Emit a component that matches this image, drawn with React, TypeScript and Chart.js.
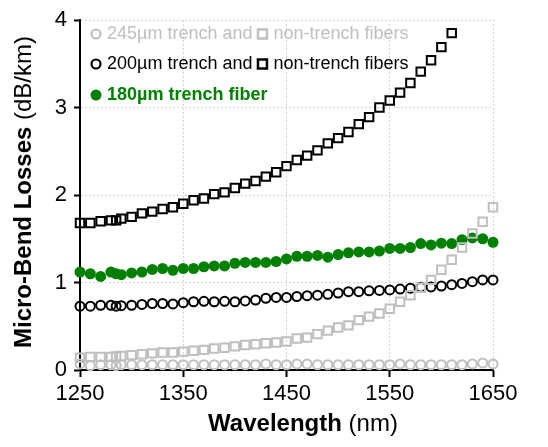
import React, { useEffect, useRef } from "react";
import { Chart, registerables } from "chart.js";

Chart.register(...registerables);

const FONT = '"Liberation Sans", Arial, Helvetica, sans-serif';

const wavelengths = [
  1250, 1260, 1270, 1280, 1285, 1290, 1300, 1310, 1320, 1330, 1340, 1350, 1360, 1370,
  1380, 1390, 1400, 1410, 1420, 1430, 1440, 1450, 1460, 1470, 1480, 1490, 1500, 1510,
  1520, 1530, 1540, 1550, 1560, 1570, 1580, 1590, 1600, 1610, 1620, 1630, 1640, 1650,
];

const trench245 = [
  0.07, 0.05, 0.06, 0.06, 0.05, 0.06, 0.06, 0.06, 0.06, 0.06, 0.06, 0.06, 0.06, 0.06,
  0.06, 0.06, 0.06, 0.06, 0.06, 0.07, 0.06, 0.06, 0.07, 0.07, 0.06, 0.06, 0.06, 0.06,
  0.06, 0.06, 0.06, 0.06, 0.07, 0.06, 0.06, 0.06, 0.06, 0.06, 0.06, 0.07, 0.08, 0.07,
];

const nonTrench245 = [
  0.14, 0.15, 0.15, 0.15, 0.155, 0.16, 0.17, 0.18, 0.19, 0.2, 0.2, 0.21, 0.22, 0.23,
  0.245, 0.255, 0.27, 0.285, 0.295, 0.305, 0.315, 0.325, 0.36, 0.37, 0.41, 0.45, 0.485, 0.51,
  0.57, 0.61, 0.645, 0.7, 0.78, 0.855, 0.94, 1.03, 1.145, 1.26, 1.4, 1.56, 1.695, 1.86,
];

const trench200 = [
  0.73, 0.73, 0.74, 0.74, 0.73, 0.735, 0.74, 0.75, 0.76, 0.76, 0.755, 0.77, 0.78, 0.785,
  0.78, 0.785, 0.78, 0.79, 0.8, 0.82, 0.83, 0.83, 0.84, 0.85, 0.855, 0.865, 0.88, 0.895,
  0.895, 0.905, 0.91, 0.915, 0.925, 0.935, 0.945, 0.95, 0.96, 0.975, 0.99, 1.01, 1.03, 1.03,
];

const nonTrench200: (number | null)[] = [
  1.68, 1.68, 1.7, 1.71, 1.71, 1.73, 1.75, 1.79, 1.81, 1.84, 1.86, 1.9, 1.94, 1.96,
  2.01, 2.03, 2.08, 2.13, 2.16, 2.21, 2.26, 2.33, 2.4, 2.45, 2.51, 2.59, 2.65, 2.72,
  2.81, 2.89, 3.0, 3.08, 3.17, 3.28, 3.41, 3.54, 3.69, 3.85, null, null, null, null,
];

const trench180 = [
  1.12, 1.1, 1.07, 1.12, 1.1, 1.09, 1.11, 1.12, 1.15, 1.16, 1.14, 1.16, 1.16, 1.18,
  1.19, 1.19, 1.22, 1.23, 1.23, 1.23, 1.24, 1.27, 1.3, 1.3, 1.31, 1.29, 1.32, 1.34,
  1.35, 1.35, 1.36, 1.39, 1.39, 1.4, 1.445, 1.43, 1.45, 1.445, 1.49, 1.51, 1.5, 1.46,
];

const xTicks = [1250, 1350, 1450, 1550, 1650];
const yTicks = [0, 1, 2, 3, 4];

const GRAY = "#bfbfbf";
const BLACK = "#000000";
const GREEN = "#008000";

function points(arr: (number | null)[]) {
  const out: { x: number; y: number }[] = [];
  wavelengths.forEach((x, i) => {
    const y = arr[i];
    if (y !== null && y !== undefined) out.push({ x, y });
  });
  return out;
}

export default function App() {
  const ref = useRef<HTMLCanvasElement>(null);

  useEffect(() => {
    const canvas = ref.current;
    if (!canvas) return;

    const textPlugin = {
      id: "customText",
      afterDraw(chart: any) {
        const c: CanvasRenderingContext2D = chart.ctx;
        c.save();
        c.textAlign = "left";
        c.textBaseline = "middle";

        // legend
        const lx = 96;
        const tx = 107;
        const rows = [34, 64, 95];
        const drawCircle = (x: number, y: number, color: string, filled: boolean) => {
          c.beginPath();
          c.arc(x, y, filled ? 5.5 : 4.5, 0, Math.PI * 2);
          if (filled) {
            c.fillStyle = color;
            c.fill();
          } else {
            c.lineWidth = 2.2;
            c.strokeStyle = color;
            c.stroke();
          }
        };
        const drawSquare = (x: number, y: number, color: string) => {
          c.lineWidth = 2.5;
          c.strokeStyle = color;
          c.strokeRect(x - 4.5, y - 4.5, 9, 9);
        };
        c.font = `18px ${FONT}`;
        const t1 = "245µm trench and";
        const t2 = "200µm trench and";
        const t3 = "non-trench fibers";
        // row 1
        drawCircle(lx, rows[0], GRAY, false);
        c.fillStyle = GRAY;
        c.fillText(t1, tx, rows[0]);
        let w = c.measureText(t1).width;
        drawSquare(tx + w + 10, rows[0], GRAY);
        c.fillStyle = GRAY;
        c.fillText(t3, tx + w + 21, rows[0]);
        // row 2
        drawCircle(lx, rows[1], BLACK, false);
        c.fillStyle = BLACK;
        c.fillText(t2, tx, rows[1]);
        w = c.measureText(t2).width;
        drawSquare(tx + w + 10, rows[1], BLACK);
        c.fillStyle = BLACK;
        c.fillText(t3, tx + w + 21, rows[1]);
        // row 3
        drawCircle(lx, rows[2], GREEN, true);
        c.font = `bold 18px ${FONT}`;
        c.fillStyle = GREEN;
        c.fillText("180µm trench fiber", tx, rows[2]);

        // x title
        c.textBaseline = "alphabetic";
        c.fillStyle = "#000";
        const xb = "Wavelength";
        const xn = " (nm)";
        c.font = `bold 24px ${FONT}`;
        const wb = c.measureText(xb).width;
        c.font = `24px ${FONT}`;
        const wn = c.measureText(xn).width;
        const xc = 303;
        const xs = xc - (wb + wn) / 2;
        c.font = `bold 24px ${FONT}`;
        c.fillText(xb, xs, 431);
        c.font = `24px ${FONT}`;
        c.fillText(xn, xs + wb, 431);

        // y title
        c.translate(31, 192);
        c.rotate(-Math.PI / 2);
        const yb = "Micro-Bend Losses";
        const yn = " (dB/km)";
        c.font = `bold 24px ${FONT}`;
        const wyb = c.measureText(yb).width;
        c.font = `24px ${FONT}`;
        const wyn = c.measureText(yn).width;
        const ys = -(wyb + wyn) / 2;
        c.font = `bold 24px ${FONT}`;
        c.fillText(yb, ys, 0);
        c.font = `24px ${FONT}`;
        c.fillText(yn, ys + wyb, 0);
        c.restore();
      },
    };

    const openCommon = {
      showLine: false,
      clip: false as any,
      pointBackgroundColor: "rgba(0,0,0,0)",
      backgroundColor: "rgba(0,0,0,0)",
      pointBorderWidth: 2,
      pointHoverRadius: 0,
    };

    const chart = new Chart(canvas, {
      type: "scatter",
      data: {
        datasets: [
          {
            ...openCommon,
            label: "245µm non-trench",
            data: points(nonTrench245),
            pointStyle: "rect",
            pointRadius: 6,
            pointBorderColor: GRAY,
            borderColor: GRAY,
          },
          {
            ...openCommon,
            label: "245µm trench",
            data: points(trench245),
            pointStyle: "circle",
            pointRadius: 4.5,
            pointBorderColor: GRAY,
            borderColor: GRAY,
          },
          {
            ...openCommon,
            label: "200µm trench",
            data: points(trench200),
            pointStyle: "circle",
            pointRadius: 4.5,
            pointBorderColor: BLACK,
            borderColor: BLACK,
          },
          {
            ...openCommon,
            label: "200µm non-trench",
            data: points(nonTrench200),
            pointStyle: "rect",
            pointRadius: 6,
            pointBorderColor: BLACK,
            borderColor: BLACK,
          },
          {
            showLine: false,
            clip: false as any,
            label: "180µm trench",
            data: points(trench180),
            pointStyle: "circle",
            pointRadius: 5.5,
            pointBorderWidth: 0,
            pointBackgroundColor: GREEN,
            backgroundColor: GREEN,
            borderColor: GREEN,
          },
        ],
      },
      options: {
        animation: false,
        responsive: false,
        events: [],
        layout: { padding: { top: 20, right: 55, left: 0, bottom: 0 } },
        plugins: {
          legend: { display: false },
          tooltip: { enabled: false },
          title: { display: false },
        },
        scales: {
          x: {
            type: "linear",
            min: 1250,
            max: 1650,
            afterBuildTicks: (s: any) => {
              s.ticks = xTicks.map((v) => ({ value: v }));
            },
            afterFit: (s: any) => {
              s.height = 77;
              s.paddingLeft = 0;
              s.paddingRight = 0;
            },
            ticks: {
              color: "#000",
              font: { family: FONT, size: 22 },
              padding: 4,
              maxRotation: 0,
              autoSkip: false,
              callback: (v: any) => String(v),
            },
            grid: {
              color: "#d4d4d4",
              lineWidth: 1,
              tickColor: "#000",
              tickLength: 7,
              tickWidth: 2,
            },
            border: { color: "#000", width: 2, dash: [2, 2] },
          },
          y: {
            type: "linear",
            min: 0,
            max: 4,
            afterBuildTicks: (s: any) => {
              s.ticks = yTicks.map((v) => ({ value: v }));
            },
            afterFit: (s: any) => {
              s.width = 80;
              s.paddingTop = 0;
              s.paddingBottom = 0;
            },
            ticks: {
              color: "#000",
              font: { family: FONT, size: 22 },
              padding: 7,
              autoSkip: false,
              callback: (v: any) => String(v),
            },
            grid: {
              color: "#d4d4d4",
              lineWidth: 1,
              tickColor: "#000",
              tickLength: 6,
              tickWidth: 2,
            },
            border: { color: "#000", width: 2, dash: [2, 2] },
          },
        },
      },
      plugins: [textPlugin],
    } as any);

    return () => chart.destroy();
  }, []);

  return (
    <div style={{ position: "absolute", left: 0, top: 0, width: 548, height: 447, background: "#fff" }}>
      <canvas ref={ref} width={548} height={447} style={{ width: 548, height: 447, display: "block" }} />
    </div>
  );
}
